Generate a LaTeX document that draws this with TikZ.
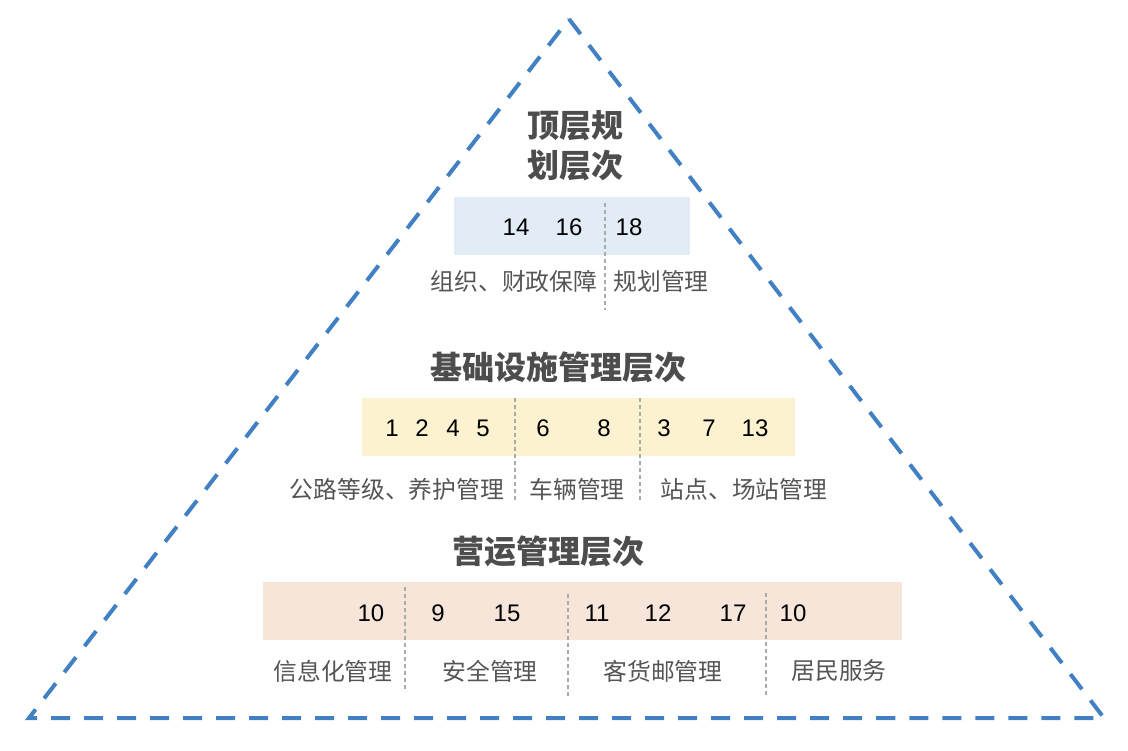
\documentclass[tikz,border=0pt]{standalone}
\usepackage{fontspec}
\setmainfont{Liberation Sans}
\newfontfamily\cjk{Noto Sans CJK SC}
\usepackage{tikz}
\definecolor{triblue}{RGB}{66,128,196}
\definecolor{topfill}{RGB}{225,236,247}
\definecolor{midfill}{RGB}{253,242,208}
\definecolor{lowfill}{RGB}{248,229,217}
\definecolor{titlegray}{RGB}{77,77,77}
\definecolor{labelgray}{RGB}{85,85,85}
\definecolor{sepgray}{RGB}{170,170,170}
\def\tsize{\fontsize{32}{40}\selectfont}
\def\lsize{\fontsize{23.8}{28}\selectfont}
\def\nsize{\fontsize{24}{28}\selectfont}
\tikzset{
  tri/.style={triblue,line width=4pt,dash pattern=on 19pt off 14pt},
  bar/.style={inner sep=0pt,minimum height=58pt},
  level/.style={text=titlegray,font=\cjk\bfseries\tsize,align=center},
  lab/.style={text=labelgray,font=\cjk\lsize},
  num/.style={text=black,font=\nsize},
  sep/.style={sepgray,line width=1.5pt,dash pattern=on 4pt off 3pt},
}

\begin{document}
\begin{tikzpicture}[x=1pt,y=-1pt]
                \useasboundingbox (0,0) rectangle (1128,751);
                % triangle
                \coordinate (apex) at (569,19);
                \coordinate (bl) at (29,718);
                \coordinate (br) at (1104,718);
                \draw[tri] (apex) -- (br) -- (bl) -- cycle;
                % top level
                \node[level] (toptitle) at (575,146) {顶层规\\划层次};
                \node[bar,fill=topfill,minimum width=236pt] (topbar) at (572,226) {};
                \foreach \n/\x in {14/516,16/569,18/629}
                    \node[num] (t\n) at (\x,227) {\n};
                \node[lab] (org) at (514,281) {组织、财政保障};
                \node[lab] (plan) at (661,281) {规划管理};
                % infrastructure level
                \node[level] (midtitle) at (558,367) {基础设施管理层次};
                \node[bar,fill=midfill,minimum width=433pt] (midbar) at (578.5,427) {};
                \foreach \n/\x in {1/392,2/422,4/453,5/483,6/543,8/604,3/664,7/709,13/755}
                    \node[num] (m\n) at (\x,428) {\n};
                \node[lab] (road) at (397,489) {公路等级、养护管理};
                \node[lab] (car) at (577,489) {车辆管理};
                \node[lab] (stop) at (744,489) {站点、场站管理};
                % operation level
                \node[level] (lowtitle) at (548,551) {营运管理层次};
                \node[bar,fill=lowfill,minimum width=639pt] (lowbar) at (582.5,611) {};
                \foreach \n/\x in {10/371,9/438,15/507,11/597,12/658,17/733,10/793}
                    \node[num] (l\x) at (\x,613) {\n};
                \node[lab] (info) at (333,671) {信息化管理};
                \node[lab] (safe) at (490,671) {安全管理};
                \node[lab] (post) at (663,671) {客货邮管理};
                \node[lab] (serv) at (839,671) {居民服务};
                % dividers
                \foreach \x/\a/\b in {605/203/310,515/398/502,640/398/502,405/587/692,568/594/699,766/593/698}
                    \draw[sep] (\x,\a) -- (\x,\b);
            \end{tikzpicture}
\end{document}
